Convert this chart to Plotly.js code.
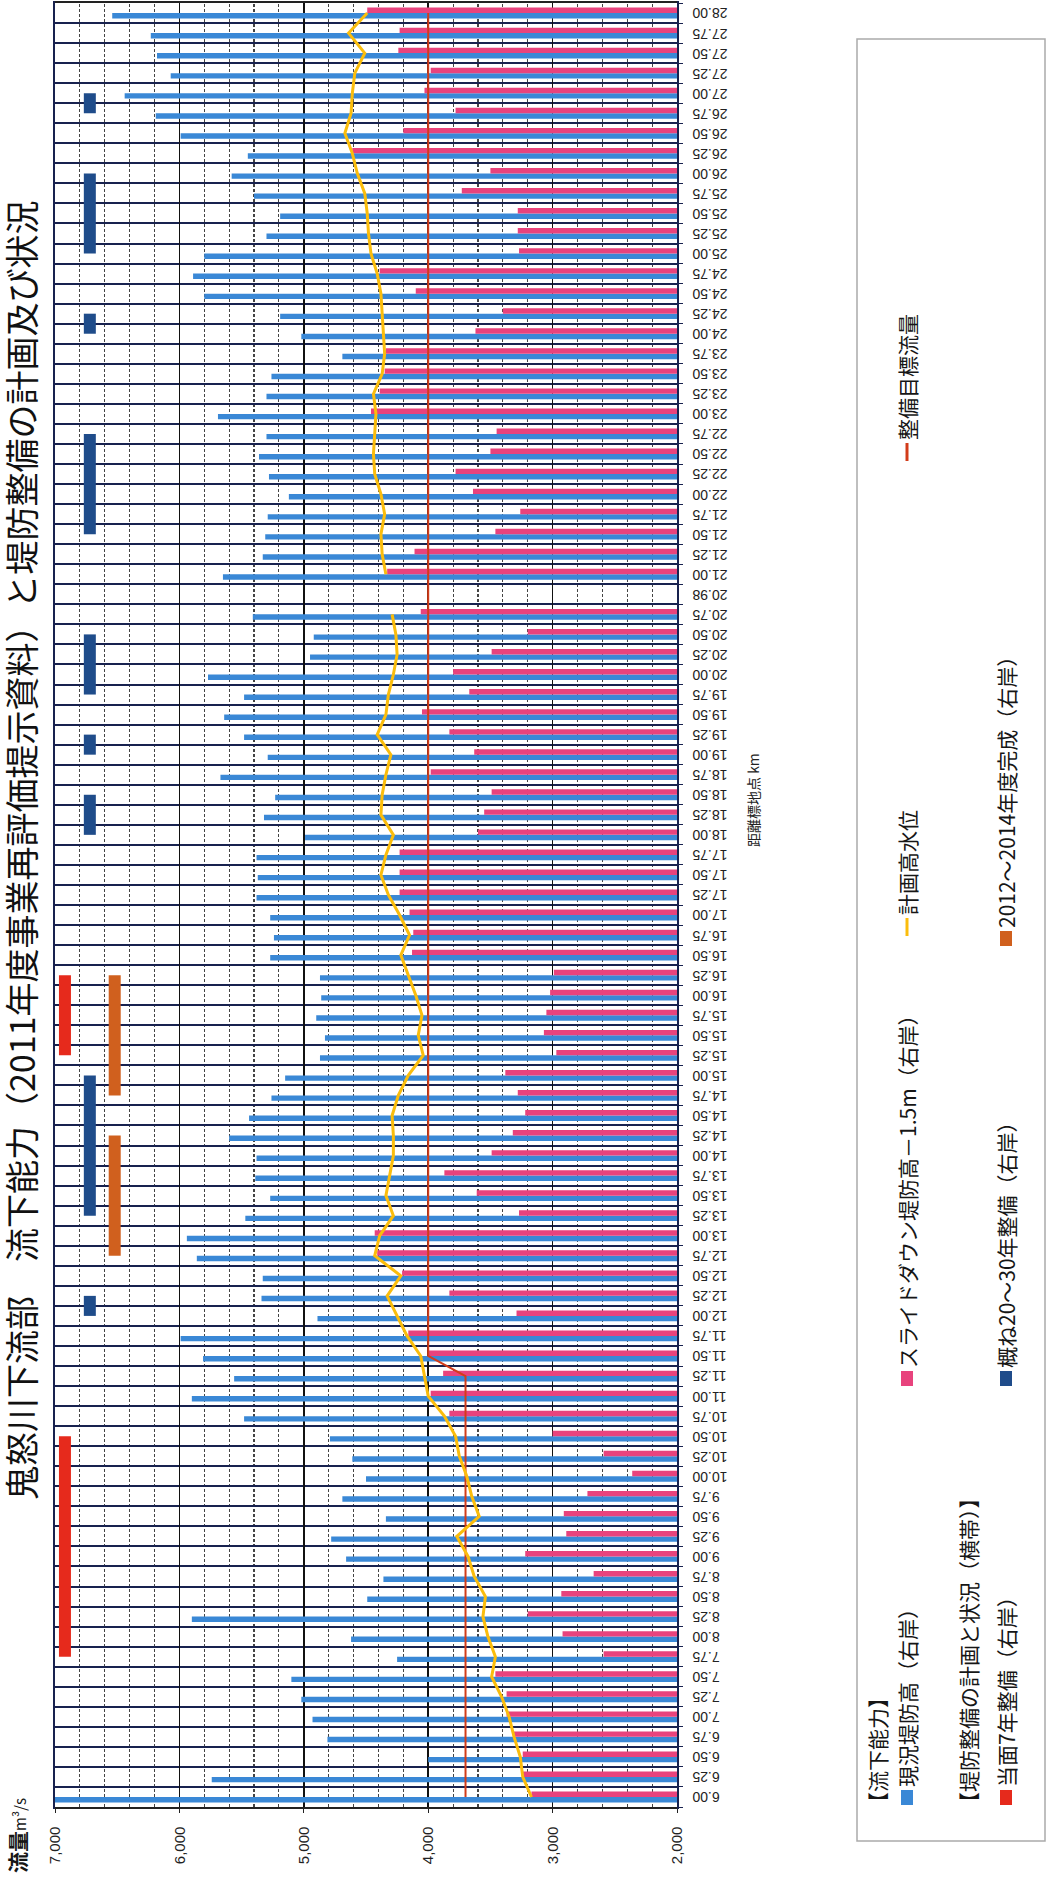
<!DOCTYPE html>
<html><head><meta charset="utf-8">
<script src="https://cdn.plot.ly/plotly-3.0.1.min.js"></script>
<style>
html,body{margin:0;padding:0;width:1049px;height:1881px;overflow:hidden;background:#fff;}
#chart{position:absolute;left:0;top:0;width:1881px;height:1049px;transform-origin:0 0;transform:translate(0px,1881px) rotate(-90deg);}
</style></head><body><div id="chart"></div>
<script>
// ---------------- data ----------------
const km = ["6.00","6.25","6.50","6.75","7.00","7.25","7.50","7.75","8.00","8.25","8.50","8.75","9.00","9.25","9.50","9.75","10.00","10.25","10.50","10.75","11.00","11.25","11.50","11.75","12.00","12.25","12.50","12.75","13.00","13.25","13.50","13.75","14.00","14.25","14.50","14.75","15.00","15.25","15.50","15.75","16.00","16.25","16.50","16.75","17.00","17.25","17.50","17.75","18.00","18.25","18.50","18.75","19.00","19.25","19.50","19.75","20.00","20.25","20.50","20.75","20.98","21.00","21.25","21.50","21.75","22.00","22.25","22.50","22.75","23.00","23.25","23.50","23.75","24.00","24.25","24.50","24.75","25.00","25.25","25.50","25.75","26.00","26.25","26.50","26.75","27.00","27.25","27.50","27.75","28.00"];

const currentLevee = [7000,5740,4000,4810,4930,5020,5100,4250,4620,5900,
4490,4360,4660,4780,4340,4690,4500,4610,4790,5480,
5900,5560,5810,5990,4890,5340,5330,5860,5940,5470,
5270,5390,5380,5600,5440,5260,5150,4870,4830,4900,
4860,4870,5270,5240,5270,5380,5370,5380,4990,5320,
5230,5670,5290,5480,5640,5480,5770,4950,4920,5410,
null,5650,5330,5310,5290,5120,5280,5360,5300,5690,
5300,5260,4690,5020,5190,5800,5890,5800,5300,5190,
5400,5580,5450,5990,6190,6440,6070,6180,6230,6540];

const slideDown = [3170,3240,3240,3310,3370,3370,3460,2590,2920,3200,
2930,2670,3220,2890,2910,2720,2360,2590,3000,3830,
3980,3880,4000,4160,3290,3830,4210,4410,4430,3270,
3610,3870,3490,3320,3220,3280,3380,2970,3070,3050,
3020,2990,4130,4120,4150,4230,4230,4230,3600,3550,
3490,3980,3630,3830,4050,3670,3800,3490,3200,4060,
null,4330,4110,3460,3260,3640,3780,3500,3450,4460,
4390,4350,4340,3620,3400,4100,4390,3270,3280,3280,
3730,3500,4610,4200,3780,4030,3980,4240,4230,4490];

const planHWL = [3170,3240,3260,3310,3350,3410,3490,3460,3520,3560,
3540,3630,3680,3770,3590,3650,3690,3750,3780,3870,
4000,4030,4060,4170,4250,4330,4220,4430,4390,4280,
4340,4310,4280,4280,4290,4240,4160,4040,4080,4050,
4100,4160,4220,4150,4230,4320,4380,4340,4280,4380,
4370,4340,4300,4410,4340,4320,4280,4250,4260,4290,
null,4340,4370,4380,4350,4380,4430,4440,4430,4420,
4440,4370,4350,4360,4370,4380,4410,4460,4480,4490,
4510,4570,4610,4670,4620,4610,4590,4510,4640,4490];

// 整備目標流量 (break points)
const targetKm = ["6.00","11.25","11.50","28.00"];
const targetQ = [3700,3700,4000,4000];

// 堤防整備の計画と状況（横帯） – ranges in km
const plan7Start = ["7.75","15.25"];
const plan7End   = ["10.50","16.25"];
const plan20Start = ["12.00","13.25","18.00","19.00","19.75","21.50","24.00","25.00","26.75"];
const plan20End   = ["12.25","15.00","18.50","19.25","20.50","22.75","24.25","26.00","27.00"];
const doneStart = ["12.75","14.75"];
const doneEnd   = ["14.25","16.25"];

const valueTicks = [2000,3000,4000,5000,6000,7000];

// names / texts
const nameBlue = "現況堤防高（右岸）";
const namePink = "スライドダウン堤防高－1.5m（右岸）";
const nameYellow = "計画高水位";
const nameRed = "整備目標流量";
const namePlan7 = "当面7年整備（右岸）";
const namePlan20 = "概ね20～30年整備（右岸）";
const nameDone = "2012～2014年度完成（右岸）";
const head1 = "【流下能力】";
const head2 = "【堤防整備の計画と状況（横帯）】";
const titleText = "鬼怒川下流部　流下能力（2011年度事業再評価提示資料）と堤防整備の計画及び状況";
const xTitle = "距離標地点 km";
const yTitle = "流量";
const yUnit = "m³/s";

// ---------------- styles ----------------
const C = {blue:"#3a88d6", pink:"#e8437d", yellow:"#fbbd0c", red:"#d23c1a",
  plan7:"#e62a1c", plan20:"#1f4c8a", done:"#d0601e", grid:"#18224f"};
const LV = {plan7:6920, plan20:6720, done:6520};

const W=1881, H=1049, ML=74, MR=3, MT=55, MB=372;
const PW=W-ML-MR, PH=H-MT-MB;
const fx = X => (X-ML)/PW;
const fy = Y => 1-(Y-MT)/PH;

function segTrace(starts, ends, level, color, name){
  const x=[], y=[];
  for(let i=0;i<starts.length;i++){
    if(i>0){x.push(ends[i-1]); y.push(null);}
    x.push(starts[i], ends[i]); y.push(level, level);
  }
  return {type:'scatter', mode:'lines', x:x, y:y, name:name,
    line:{color:color, width:12}, connectgaps:false, hoverinfo:'skip'};
}

const traces = [
  {type:'bar', x:km, y:currentLevee, name:nameBlue, marker:{color:C.blue}},
  {type:'bar', x:km, y:slideDown, name:namePink, marker:{color:C.pink}},
  {type:'scatter', mode:'lines', x:targetKm, y:targetQ, name:nameRed, line:{color:C.red, width:2}},
  {type:'scatter', mode:'lines', x:km, y:planHWL, name:nameYellow, line:{color:C.yellow, width:3}, connectgaps:false},
  segTrace(plan7Start, plan7End, LV.plan7, C.plan7, namePlan7),
  segTrace(plan20Start, plan20End, LV.plan20, C.plan20, namePlan20),
  segTrace(doneStart, doneEnd, LV.done, C.done, nameDone)
];

const JP = "Noto Sans CJK JP, sans-serif";
const ann = [];
const shp = [];
function txt(X, Y, t, size, extra){
  ann.push(Object.assign({xref:'paper', yref:'paper', x:fx(X), y:fy(Y), text:t, showarrow:false,
    xanchor:'left', yanchor:'middle', align:'left', font:{family:JP, size:size, color:'#161616'}}, extra||{}));
}
function rectMark(X, Y, color){
  shp.push({type:'rect', xref:'paper', yref:'paper', x0:fx(X), x1:fx(X+15), y0:fy(Y-6), y1:fy(Y+6),
    fillcolor:color, line:{width:0}});
}
function lineMark(X, Y, color, w){
  shp.push({type:'line', xref:'paper', yref:'paper', x0:fx(X), x1:fx(X+18), y0:fy(Y), y1:fy(Y),
    line:{color:color, width:w}});
}
// legend box
shp.push({type:'rect', xref:'paper', yref:'paper', x0:fx(40), x1:fx(1842), y0:fy(857), y1:fy(1045),
  line:{color:'#aaaaaa', width:1.5}, fillcolor:'rgba(0,0,0,0)'});
const LS = 21;
txt(66, 877, head1, LS);
rectMark(76, 907, C.blue);    txt(92, 907, nameBlue, LS);
rectMark(495, 907, C.pink);   txt(511, 907, namePink, LS);
lineMark(945, 907, C.yellow, 3); txt(964, 907, nameYellow, LS);
lineMark(1420, 907, C.red, 3);   txt(1439, 907, nameRed, LS);
txt(66, 968, head2, LS);
rectMark(76, 1006, C.plan7);   txt(92, 1006, namePlan7, LS);
rectMark(495, 1006, C.plan20); txt(511, 1006, namePlan20, LS);
rectMark(935, 1006, C.done);   txt(951, 1006, nameDone, LS);

// axis titles
ann.push({xref:'paper', yref:'paper', x:fx(1081), y:fy(753), text:xTitle, showarrow:false,
  xanchor:'center', yanchor:'middle', font:{family:JP, size:14, color:'#222'}});
ann.push({xref:'paper', yref:'paper', x:fx(6), y:fy(34), text:'<b>'+yTitle+'</b><span style="font-size:15px">'+yUnit+'</span>',
  showarrow:false, xanchor:'left', yanchor:'bottom', font:{family:JP, size:21, color:'#161616'}});

const layout = {
  width:W, height:H, autosize:false,
  margin:{l:ML, r:MR, t:MT, b:MB, pad:0},
  paper_bgcolor:'#fff', plot_bgcolor:'#fff',
  barmode:'group', bargap:0.46, bargroupgap:0,
  showlegend:false,
  font:{family:'Liberation Sans, Arial, sans-serif', color:'#222'},
  title:{text:titleText, font:{family:JP, size:34, color:'#111'}, xref:'container', x:381/W, xanchor:'left',
    yref:'container', y:1-11/H, yanchor:'top', pad:{t:0,b:0,l:0,r:0}},
  xaxis:{type:'category', categoryorder:'array', categoryarray:km, tickmode:'linear', tick0:0, dtick:1,
    tickson:'boundaries', ticks:'outside', ticklen:4, tickcolor:C.grid, tickangle:-90,
    tickfont:{size:14, color:'#222'}, showgrid:true, gridcolor:C.grid, gridwidth:2,
    showline:true, linecolor:C.grid, linewidth:1.8, mirror:true, range:[-0.5, km.length-0.5],
    automargin:false, ticklabelstandoff:8, fixedrange:true},
  yaxis:{range:[2000,7000], tickmode:'array', tickvals:valueTicks, tickformat:',d',
    showgrid:true, gridcolor:'#111', gridwidth:1.5,
    minor:{dtick:200, tick0:0, showgrid:true, gridcolor:'#444', griddash:'3px,2px', gridwidth:1.1, ticks:''},
    ticks:'outside', ticklen:4, tickcolor:'#222', showline:true, linecolor:'#222', linewidth:1.6, mirror:true,
    tickfont:{size:15, color:'#222'}, ticklabelstandoff:11, automargin:false, zeroline:false, fixedrange:true},
  annotations:ann, shapes:shp
};

Plotly.newPlot('chart', traces, layout, {staticPlot:true, displayModeBar:false, responsive:false});
</script></body></html>
